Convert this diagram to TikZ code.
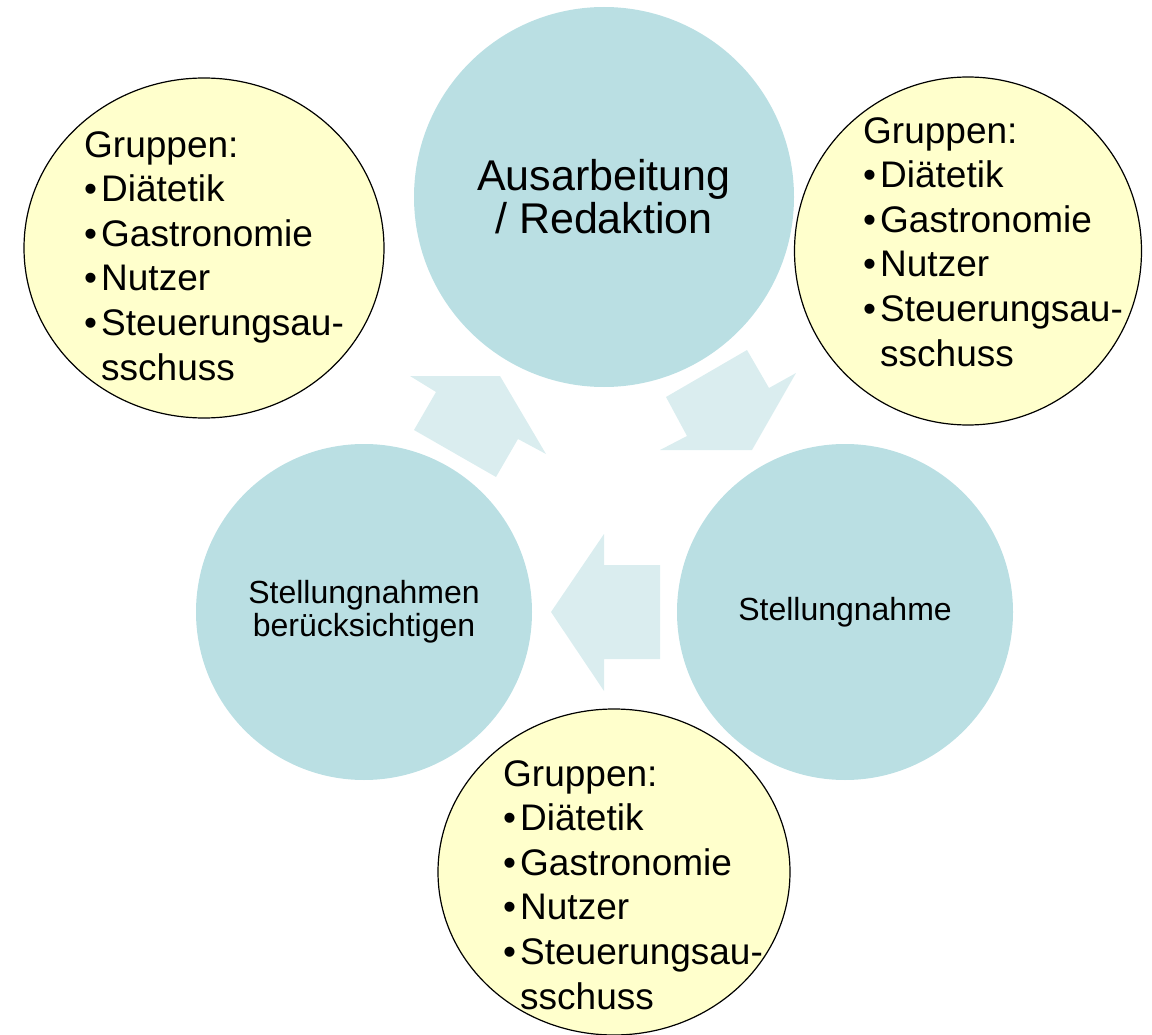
\documentclass[tikz,border=0pt]{standalone}
\usepackage{fontspec}
\setmainfont{Liberation Sans}
\usetikzlibrary{shapes.geometric}

\definecolor{kreisblau}{RGB}{186,223,227}
\definecolor{pfeilblau}{RGB}{218,237,239}
\definecolor{gruppengelb}{RGB}{255,255,204}

\newcommand{\punkt}{\makebox[17pt][l]{\textbullet}}
\newcommand{\gruppenliste}{Gruppen:\\
  \punkt Diätetik\\
  \punkt Gastronomie\\
  \punkt Nutzer\\
  \punkt Steuerungsau-\\
  \hspace*{17pt}sschuss}

\begin{document}
\begin{tikzpicture}[x=1pt, y=-1pt,
  kreis/.style={circle, fill=kreisblau, inner sep=0pt, align=center},
  gruppe/.style={ellipse, draw=black, line width=1.2pt, fill=gruppengelb, inner sep=0pt},
  liste/.style={anchor=north west, inner sep=0pt, align=left, font=\fontsize{37}{44.6}\selectfont},
  pfeil/.style={fill=pfeilblau}
]
\useasboundingbox (0,0) rectangle (1152,1035);

% Pfeile im Kreislauf
\fill[pfeil] (410,376) -- (500,376) -- (546,454) -- (518,439) -- (496,477) -- (414,430) -- (436,392) -- cycle;
\fill[pfeil] (747,350) -- (769,388) -- (796,373) -- (752,450) -- (660,450) -- (687,436) -- (666,397) -- cycle;
\fill[pfeil] (551,612) -- (604,534) -- (604,565) -- (660,565) -- (660,659) -- (604,659) -- (604,691) -- cycle;

% Schritte
\node[kreis, minimum size=380pt, font=\fontsize{43}{43}\selectfont] (redaktion) at (604,197) {Ausarbeitung\\/ Redaktion};
\node[kreis, minimum size=336pt, font=\fontsize{32}{33}\selectfont] (stellung) at (845,612) {Stellungnahme};
\node[kreis, minimum size=336pt, font=\fontsize{32}{33}\selectfont] (beruecks) at (364,612) {Stellungnahmen\\berücksichtigen};

% beteiligte Gruppen
\node[gruppe, minimum width=360pt, minimum height=340pt] (gruppeA) at (204,248) {};
\node[gruppe, minimum width=347pt, minimum height=348pt] (gruppeB) at (968,251) {};
\node[gruppe, minimum width=352pt, minimum height=326pt] (gruppeC) at (614,872) {};

\node[liste] (listeA) at (84,131) {\gruppenliste};
\node[liste] (listeB) at (863,117) {\gruppenliste};
\node[liste] (listeC) at (503,760) {\gruppenliste};
\end{tikzpicture}
\end{document}
